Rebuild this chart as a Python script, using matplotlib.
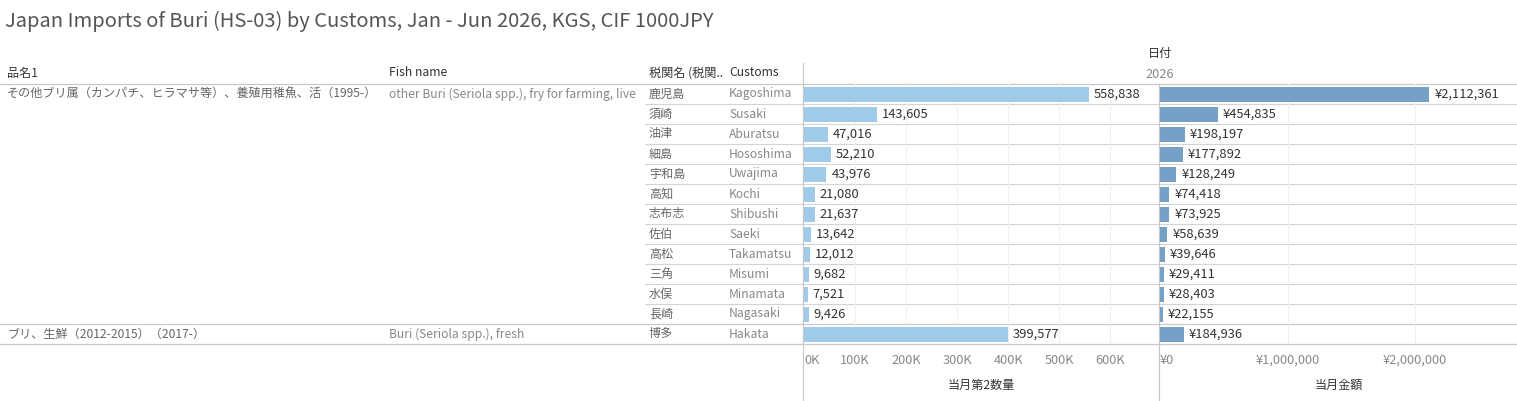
import matplotlib
matplotlib.use("Agg")
import matplotlib.pyplot as plt

plt.rcParams["font.family"] = ["Noto Sans CJK JP", "DejaVu Sans"]

# data
products_jp = [
    "その他ブリ属（カンパチ、ヒラマサ等）、養殖用稚魚、活（1995-）",
    "ブリ、生鮮（2012-2015）（2017-）",
]
products_en = [
    "other Buri (Seriola spp.), fry for farming, live",
    "Buri (Seriola spp.), fresh",
]
group_sizes = [12, 1]
customs_jp = ["鹿児島", "須崎", "油津", "細島", "宇和島", "高知", "志布志",
              "佐伯", "高松", "三角", "水俣", "長崎", "博多"]
customs_en = ["Kagoshima", "Susaki", "Aburatsu", "Hososhima", "Uwajima", "Kochi",
              "Shibushi", "Saeki", "Takamatsu", "Misumi", "Minamata", "Nagasaki",
              "Hakata"]
quantity = [558838, 143605, 47016, 52210, 43976, 21080, 21637,
            13642, 12012, 9682, 7521, 9426, 399577]
value_jpy = [2112361, 454835, 198197, 177892, 128249, 74418, 73925,
             58639, 39646, 29411, 28403, 22155, 184936]
qty_ticks = [0, 100000, 200000, 300000, 400000, 500000, 600000]
qty_tick_labels = ["0K", "100K", "200K", "300K", "400K", "500K", "600K"]
val_ticks = [0, 1000000, 2000000]
val_tick_labels = ["¥0", "¥1,000,000", "¥2,000,000"]

W, H = 1517, 401
ROW_TOP, ROW_H = 84, 20
n = len(customs_jp)
TABLE_BOTTOM = ROW_TOP + ROW_H * n

HEADER_C = "#333333"
LABEL_C = "#666666"
LIGHT_C = "#888888"
LINE_C = "#d4d4d4"
GRID_C = "#efefef"
QTY_C = "#9fcae8"
VAL_C = "#75a1c7"
FS = 8.7

fig = plt.figure(figsize=(W / 100, H / 100), dpi=100)
bg = fig.add_axes([0, 0, 1, 1])
bg.set_xlim(0, W)
bg.set_ylim(H, 0)
bg.axis("off")

bg.text(5, 21, "Japan Imports of Buri (HS-03) by Customs, Jan - Jun 2026, KGS, CIF 1000JPY",
        fontsize=14.5, color="#555555", va="center", ha="left")

bg.text(1160, 54, "日付", fontsize=FS, color=HEADER_C, ha="center", va="center")
bg.text(1160, 74, "2026", fontsize=9.2, color=LIGHT_C, ha="center", va="center")
for x, lab in [(7, "品名1"), (389, "Fish name"), (649, "税関名 (税関.."), (729, "Customs")]:
    bg.text(x, 73, lab, fontsize=FS, color=HEADER_C, ha="left", va="center")

# table rows
for i in range(n):
    yc = ROW_TOP + ROW_H * i + ROW_H / 2
    bg.text(649, yc, customs_jp[i], fontsize=FS, color=LABEL_C, ha="left", va="center")
    bg.text(729, yc, customs_en[i], fontsize=FS, color=LIGHT_C, ha="left", va="center")

start = 0
for g, size in enumerate(group_sizes):
    yc = ROW_TOP + ROW_H * start + ROW_H / 2
    bg.text(7, yc, products_jp[g], fontsize=FS, color=LABEL_C, ha="left", va="center")
    bg.text(389, yc, products_en[g], fontsize=FS, color=LIGHT_C, ha="left", va="center")
    for j in range(1, size):
        y = ROW_TOP + ROW_H * (start + j)
        bg.plot([645, W], [y, y], color=LINE_C, lw=0.8)
    start += size
    y = ROW_TOP + ROW_H * start
    bg.plot([0, W], [y, y], color="#c8c8c8", lw=0.9)

bg.plot([0, W], [ROW_TOP, ROW_TOP], color="#c8c8c8", lw=0.9)
bg.plot([803.5, 803.5], [63, H], color="#c8c8c8", lw=0.9)
bg.plot([1159.5, 1159.5], [ROW_TOP, H], color="#c8c8c8", lw=0.9)


def bar_panel(x0, x1, xmax, values, color, ticks, tick_labels, fmt, title):
    ax = fig.add_axes([x0 / W, (H - TABLE_BOTTOM) / H, (x1 - x0) / W, ROW_H * n / H])
    ax.patch.set_alpha(0)
    ax.set_xlim(0, xmax)
    ax.set_ylim(n - 0.5, -0.5)
    ax.barh(range(n), values, height=0.75, color=color, zorder=2)
    for i, v in enumerate(values):
        ax.annotate(fmt(v), (v, i), xytext=(3.5, 0), textcoords="offset points",
                    fontsize=9.3, color="#333333", va="center", ha="left", zorder=3)
    for t in ticks[1:]:
        ax.axvline(t, color=GRID_C, lw=0.8, zorder=0)
    ax.set_yticks([])
    ax.set_xticks(ticks)
    ax.set_xticklabels(tick_labels)
    ax.tick_params(axis="x", length=0, pad=7, labelsize=9.2, labelcolor=LIGHT_C)
    ax.get_xticklabels()[0].set_horizontalalignment("left")
    ax.set_xlabel(title, fontsize=FS, color=HEADER_C, labelpad=9)
    for s in ax.spines.values():
        s.set_visible(False)
    return ax


bar_panel(804, 1159, 696000, quantity, QTY_C, qty_ticks, qty_tick_labels,
          lambda v: f"{v:,}", "当月第2数量")
bar_panel(1160, W, 2800000, value_jpy, VAL_C, val_ticks, val_tick_labels,
          lambda v: f"¥{v:,}", "当月金額")

fig.savefig("out.png", dpi=100)
